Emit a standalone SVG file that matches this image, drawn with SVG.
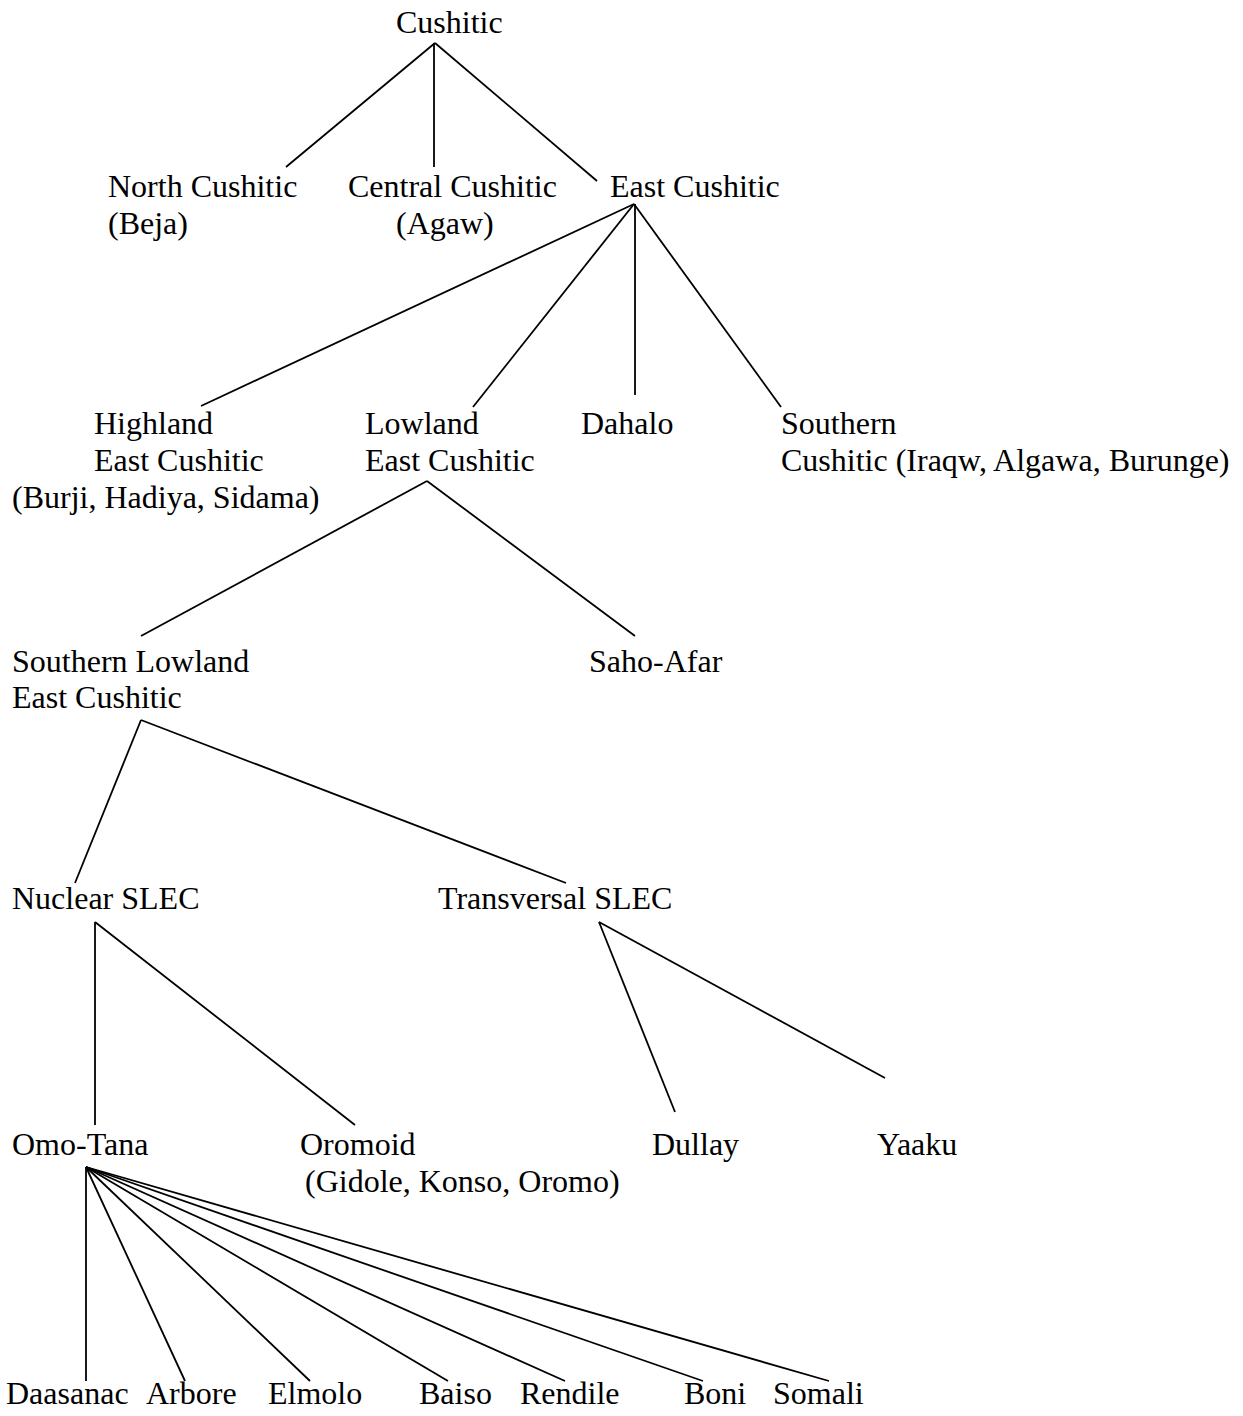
<svg xmlns="http://www.w3.org/2000/svg" width="1243" height="1416" viewBox="0 0 1243 1416">
<style>
text{font-family:"Liberation Serif","Times New Roman",serif;font-size:32px;fill:#000}
.c line{stroke:#000;stroke-width:1.8;stroke-linecap:butt}
</style>
<rect width="1243" height="1416" fill="#fff"/>
<g id="connectors" class="c">
<line x1="435" y1="43" x2="286" y2="167"/>
<line x1="434" y1="43" x2="434" y2="167"/>
<line x1="435" y1="43" x2="597" y2="181"/>
<line x1="634" y1="204" x2="201" y2="406"/>
<line x1="634" y1="204" x2="473" y2="407"/>
<line x1="635" y1="204" x2="635" y2="395"/>
<line x1="634" y1="204" x2="781" y2="407"/>
<line x1="427" y1="481" x2="141" y2="636"/>
<line x1="427" y1="481" x2="635" y2="636"/>
<line x1="141" y1="720" x2="75" y2="883"/>
<line x1="141" y1="720" x2="566" y2="883"/>
<line x1="95" y1="922" x2="95" y2="1125"/>
<line x1="95" y1="922" x2="355" y2="1125"/>
<line x1="599" y1="922" x2="675" y2="1112"/>
<line x1="599" y1="922" x2="885" y2="1078"/>
<line x1="86" y1="1167" x2="86" y2="1381"/>
<line x1="86" y1="1167" x2="185" y2="1381"/>
<line x1="86" y1="1167" x2="310" y2="1381"/>
<line x1="86" y1="1167" x2="448" y2="1381"/>
<line x1="86" y1="1167" x2="565" y2="1381"/>
<line x1="86" y1="1167" x2="703" y2="1381"/>
<line x1="86" y1="1167" x2="829" y2="1381"/>
</g>
<g id="n-cushitic"><text x="396" y="33">Cushitic</text></g>
<g id="n-north"><text x="108" y="197">North Cushitic</text><text x="108" y="234">(Beja)</text></g>
<g id="n-central"><text x="348" y="197">Central Cushitic</text><text x="396" y="234">(Agaw)</text></g>
<g id="n-east"><text x="610" y="197">East Cushitic</text></g>
<g id="n-highland"><text x="94" y="434">Highland</text><text x="94" y="471">East Cushitic</text><text x="12" y="508">(Burji, Hadiya, Sidama)</text></g>
<g id="n-lowland"><text x="365" y="434">Lowland</text><text x="365" y="471">East Cushitic</text></g>
<g id="n-dahalo"><text x="581" y="434">Dahalo</text></g>
<g id="n-southern"><text x="781" y="434">Southern</text><text x="781" y="471">Cushitic (Iraqw, Algawa, Burunge)</text></g>
<g id="n-slec"><text x="12" y="672">Southern Lowland</text><text x="12" y="708">East Cushitic</text></g>
<g id="n-saho"><text x="589" y="672">Saho-Afar</text></g>
<g id="n-nuclear"><text x="12" y="909">Nuclear SLEC</text></g>
<g id="n-transversal"><text x="438" y="909">Transversal SLEC</text></g>
<g id="n-omotana"><text x="12" y="1155">Omo-Tana</text></g>
<g id="n-oromoid"><text x="300" y="1155">Oromoid</text><text x="305" y="1192">(Gidole, Konso, Oromo)</text></g>
<g id="n-dullay"><text x="652" y="1155">Dullay</text></g>
<g id="n-yaaku"><text x="877" y="1155">Yaaku</text></g>
<g id="n-daasanac"><text x="6" y="1404">Daasanac</text></g>
<g id="n-arbore"><text x="146" y="1404">Arbore</text></g>
<g id="n-elmolo"><text x="268" y="1404">Elmolo</text></g>
<g id="n-baiso"><text x="419" y="1404">Baiso</text></g>
<g id="n-rendile"><text x="520" y="1404">Rendile</text></g>
<g id="n-boni"><text x="684" y="1404">Boni</text></g>
<g id="n-somali"><text x="773" y="1404">Somali</text></g>
</svg>
